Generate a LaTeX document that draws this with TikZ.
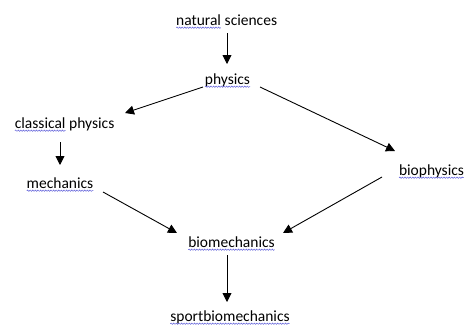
\documentclass[tikz,border=0pt]{standalone}
\usepackage{fontspec}
\setmainfont{Carlito}
\usetikzlibrary{arrows.meta,decorations.pathmorphing}
\definecolor{spell}{RGB}{85,85,215}
\tikzset{
  lbl/.style={font=\fontsize{15.5}{18}\selectfont, inner sep=0pt, outer sep=0pt, anchor=base},
  conn/.style={line width=0.9pt, -{Triangle[length=9pt,width=9pt]}},
  plainconn/.style={line width=0.9pt},
  wavy/.style={spell, line width=0.45pt, decorate, decoration={snake, segment length=2.6pt, amplitude=0.7pt}}
}
\newcommand\wv[1]{\tikz[baseline=(wvw.base)]{\node[inner sep=0pt,outer sep=0pt,anchor=base](wvw){#1};\draw[wavy] ([yshift=-2.7pt]wvw.base west) -- ([yshift=-2.7pt]wvw.base east);}}
\begin{document}
\begin{tikzpicture}[x=1pt,y=-1pt]
\useasboundingbox (0,0) rectangle (468,327);
\node[lbl] (ns) at (226.5,25) {\wv{natural} sciences};
\node[lbl] (ph) at (227.5,84) {\wv{physics}};
\node[lbl] (cp) at (64.5,128) {\wv{classical} physics};
\node[lbl] (me) at (60,188) {\wv{mechanics}};
\node[lbl] (bp) at (431.5,175) {\wv{biophysics}};
\node[lbl] (bm) at (231.5,247) {\wv{biomechanics}};
\node[lbl] (sb) at (230,321) {\wv{sportbiomechanics}};
% connector end points
\coordinate (a1) at (227,33);  \coordinate (b1) at (227,64);
\coordinate (a2) at (203,87);  \coordinate (b2) at (125,113);
\coordinate (a3) at (260,87);  \coordinate (b3) at (395,151);
\coordinate (a4) at (60,142);  \coordinate (b4) at (60,165);
\coordinate (a5) at (103,192); \coordinate (b5) at (177,233);
\coordinate (a6) at (382,177); \coordinate (b6) at (283,233);
\coordinate (a7) at (227,255); \coordinate (b7) at (227,302);
\draw[conn] (a1) -- (b1);
\draw[conn] (a2) -- (b2);
\draw[conn] (a3) -- (b3);
\draw[conn] (a4) -- (b4);
\draw[conn] (a5) -- (b5);
\draw[conn] (a6) -- (b6);
\draw[conn] (a7) -- (b7);
\end{tikzpicture}
\end{document}
